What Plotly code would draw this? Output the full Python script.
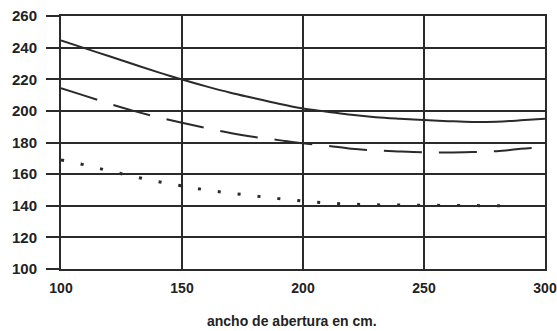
import plotly.graph_objects as go

x_vals = [100, 110, 120, 130, 140, 150, 160, 170, 180, 190, 200,
          210, 220, 230, 240, 250, 260, 270, 280, 290, 300]

solid_vals = [244.5, 239.5, 234.5, 229.5, 224.5, 219.8, 215.5, 211.5, 208.0, 204.5, 201.5,
              199.5, 197.5, 196.0, 195.0, 194.2, 193.5, 193.0, 193.2, 194.0, 195.0]

dashed_vals = [214.3, 209.5, 204.5, 200.0, 196.0, 192.5, 189.2, 186.0, 183.5, 181.5, 179.5,
               178.0, 176.0, 175.0, 174.3, 173.8, 173.7, 174.0, 174.5, 176.0, 177.0]

dotted_x = [100, 110, 120, 130, 140, 150, 160, 170, 180, 190, 200,
            210, 220, 230, 240, 250, 260, 270, 280, 285]
dotted_vals = [169.0, 165.8, 162.0, 158.5, 155.3, 152.5, 150.0, 148.0, 146.2, 144.5, 143.0,
               141.8, 141.0, 140.6, 140.4, 140.3, 140.2, 140.1, 140.0, 140.0]

x_ticks = [100, 150, 200, 250, 300]
y_ticks = [100, 120, 140, 160, 180, 200, 220, 240, 260]
x_title = "ancho de abertura en cm."

LINE = "#2a2a2a"
FONT = "Liberation Sans"

fig = go.Figure()
fig.add_trace(go.Scatter(x=x_vals, y=solid_vals, mode="lines",
                         line=dict(color=LINE, width=2, shape="spline"), showlegend=False))
fig.add_trace(go.Scatter(x=x_vals, y=dashed_vals, mode="lines",
                         line=dict(color=LINE, width=2, dash="38px,17px", shape="spline"), showlegend=False))
fig.add_trace(go.Scatter(x=dotted_x, y=dotted_vals, mode="lines",
                         line=dict(color=LINE, width=3, dash="3px,17px", shape="spline"), showlegend=False))

fig.update_layout(
    width=557, height=331,
    margin=dict(l=61, r=12, t=16, b=62),
    paper_bgcolor="white", plot_bgcolor="white",
    font=dict(family=FONT, color="#222", size=14),
    xaxis=dict(range=[100, 300], tickvals=x_ticks, ticktext=[str(v) for v in x_ticks],
               showgrid=True, gridcolor=LINE, gridwidth=2,
               showline=True, mirror=True, linecolor=LINE, linewidth=2,
               ticks="", zeroline=False, ticklabelstandoff=5, automargin=False,
               ticklabeloverflow="allow",
               tickfont=dict(family=FONT, size=14, weight="bold", color="#222")),
    yaxis=dict(range=[100, 260], tickvals=y_ticks, ticktext=[str(v) for v in y_ticks],
               showgrid=True, gridcolor=LINE, gridwidth=2,
               showline=True, mirror=True, linecolor=LINE, linewidth=2,
               ticks="outside", ticklen=13, tickwidth=2, tickcolor=LINE,
               zeroline=False, ticklabelstandoff=6, automargin=False,
               ticklabeloverflow="allow",
               tickfont=dict(family=FONT, size=15, weight="bold", color="#222")),
    annotations=[dict(text=x_title, xref="paper", yref="paper", x=0.477, y=-0.205,
                      xanchor="center", yanchor="middle", showarrow=False,
                      font=dict(family=FONT, size=14, weight="bold", color="#222"))],
)

fig.write_html("out.html", config={"displayModeBar": False},
               post_script="document.body.style.margin='0';document.body.style.overflow='hidden';")
